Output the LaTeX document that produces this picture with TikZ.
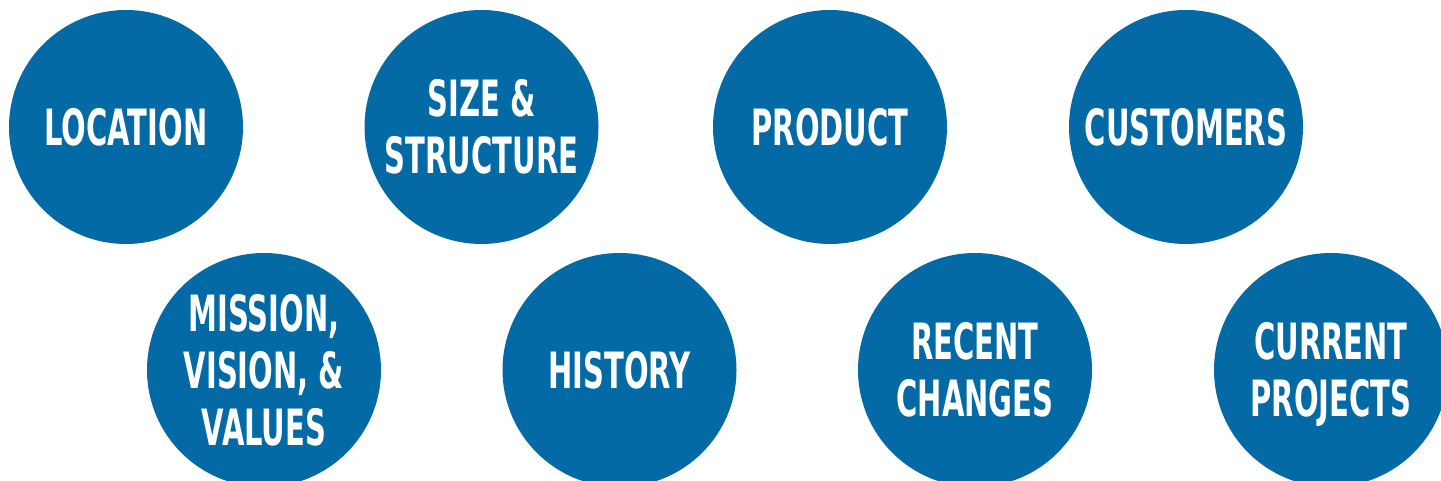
\documentclass[tikz,border=0pt]{standalone}
\usepackage{fontspec}
\usepackage{graphicx}
\newfontfamily\labfont{DejaVu Sans Condensed}
\definecolor{bubblue}{RGB}{4,106,166}
\newcommand{\lbl}[1]{\scalebox{0.645}[1]{\begin{tabular}{@{}c@{}}#1\end{tabular}}}
\tikzset{
  bubble/.style={circle, fill=bubblue, draw=none, minimum size=234pt, inner sep=0pt},
  lbltxt/.style={inner sep=0pt, yshift=-7pt, text=white,
    font=\labfont\bfseries\fontsize{50}{57}\selectfont}
}
\begin{document}
\begin{tikzpicture}[x=1pt,y=1pt]
\useasboundingbox (0,0) rectangle (1441,481);
\clip (0,0) rectangle (1441,481);
\fill[white] (0,0) rectangle (1441,481);
% row 1
\node[bubble] (loc)  at (126,354)   {};
\node[bubble] (size) at (481.5,354) {};
\node[bubble] (prod) at (830,354)   {};
\node[bubble] (cust) at (1186,354)  {};
% row 2
\node[bubble] (miss) at (264,111)   {};
\node[bubble] (hist) at (619.5,111) {};
\node[bubble] (rec)  at (975,111)   {};
\node[bubble] (cur)  at (1331,111)  {};
% labels
\node[lbltxt] (locT)  at (loc)  {\lbl{LOCATION}};
\node[lbltxt] (sizeT) at (size) {\lbl{SIZE \&\\STRUCTURE}};
\node[lbltxt] (prodT) at (prod) {\lbl{PRODUCT}};
\node[lbltxt] (custT) at (cust) {\lbl{CUSTOMERS}};
\node[lbltxt] (missT) at (miss) {\lbl{MISSION,\\VISION, \&\\VALUES}};
\node[lbltxt] (histT) at (hist) {\lbl{HISTORY}};
\node[lbltxt] (recT)  at (rec)  {\lbl{RECENT\\CHANGES}};
\node[lbltxt] (curT)  at (cur)  {\lbl{CURRENT\\PROJECTS}};
\end{tikzpicture}
\end{document}
